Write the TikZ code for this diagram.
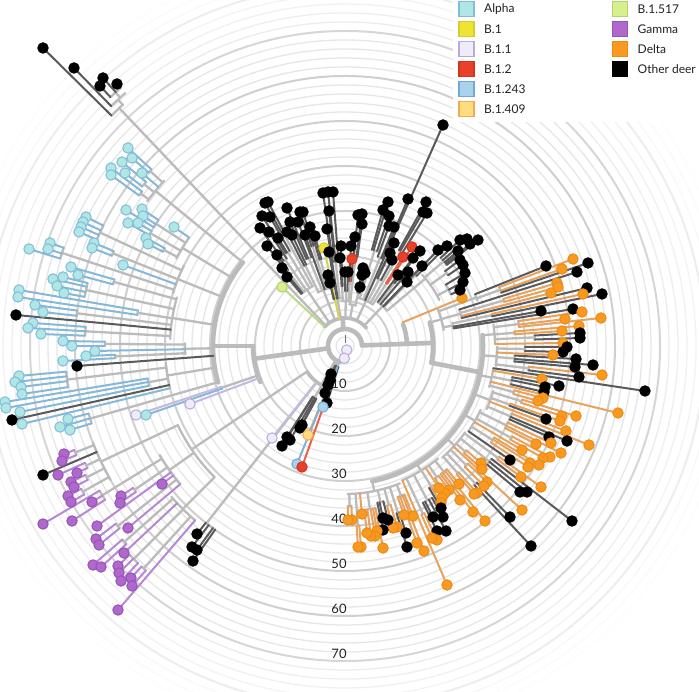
\documentclass[tikz,border=0pt]{standalone}
\usepackage{fontspec}
\setmainfont{Lato}
\definecolor{brc}{HTML}{BBBBBB}
\definecolor{rmin}{HTML}{E6E6E6}
\definecolor{rmaj}{HTML}{CFCFCF}
\definecolor{legtx}{HTML}{222222}
\definecolor{fA}{HTML}{B0E6E3}\definecolor{sA}{HTML}{80BCDC}\definecolor{lA}{HTML}{86B8D8}
\definecolor{fY}{HTML}{EDE434}\definecolor{sY}{HTML}{D6CC2A}\definecolor{lY}{HTML}{D8D24E}
\definecolor{fL}{HTML}{F0EBF8}\definecolor{sL}{HTML}{B8ABD8}\definecolor{lL}{HTML}{C4B9DE}
\definecolor{fR}{HTML}{E8412B}\definecolor{sR}{HTML}{D5321F}\definecolor{lR}{HTML}{E8604C}
\definecolor{fS}{HTML}{A9D3EC}\definecolor{sS}{HTML}{72A9D4}\definecolor{lS}{HTML}{80B0D6}
\definecolor{fP}{HTML}{FDDD80}\definecolor{sP}{HTML}{F3AA55}\definecolor{lP}{HTML}{F2B45E}
\definecolor{fE}{HTML}{D9EF8E}\definecolor{sE}{HTML}{AED46E}\definecolor{lE}{HTML}{B9D98A}
\definecolor{fG}{HTML}{B068CC}\definecolor{sG}{HTML}{9354B4}\definecolor{lG}{HTML}{B688D6}
\definecolor{fO}{HTML}{F89A22}\definecolor{sO}{HTML}{EE8A14}\definecolor{lO}{HTML}{E6A25E}
\definecolor{lB}{HTML}{5A5A5A}
\tikzset{
  br/.style={draw=brc,line width=2.3pt,line cap=round},
  thk/.style={br,line width=4.6pt},
  ringmin/.style={draw=rmin,line width=1.3pt},
  ringmaj/.style={draw=rmaj,line width=2pt},
  tipl/.style={line width=2pt,line cap=round},
  LA/.style={tipl,draw=lA}, LY/.style={tipl,draw=lY}, LL/.style={tipl,draw=lL},
  LR/.style={tipl,draw=lR}, LS/.style={tipl,draw=lS}, LP/.style={tipl,draw=lP},
  LE/.style={tipl,draw=lE}, LG/.style={tipl,draw=lG}, LO/.style={tipl,draw=lO},
  LB/.style={tipl,draw=lB},
  dot/.style={line width=1pt},
  DA/.style={dot,fill=fA,draw=sA}, DY/.style={dot,fill=fY,draw=sY}, DL/.style={dot,fill=fL,draw=sL},
  DR/.style={dot,fill=fR,draw=sR}, DS/.style={dot,fill=fS,draw=sS}, DP/.style={dot,fill=fP,draw=sP},
  DE/.style={dot,fill=fE,draw=sE}, DG/.style={dot,fill=fG,draw=sG}, DO/.style={dot,fill=fO,draw=sO},
  DB/.style={dot,fill=black,draw=black},
  axlab/.style={font=\fontsize{13}{15}\selectfont,text=legtx},
  legtext/.style={anchor=west,inner sep=0pt,font=\fontsize{12}{14}\selectfont,text=legtx}
}
\newcount\drawmode
\newcommand\GetAng[3]{\pgfmathsetmacro#3{atan2(346-(#2),(#1)-345)}\pgfmathsetmacro#3{(#3<-92)?(#3+360):(#3)}}
\newcommand\Tp[4]{\ifnum\drawmode>0 \GetAng{#1}{#2}\tA
  \ifnum\drawmode=1 \draw[L#4] (\tA:#3) -- (#1-345,346-#2);
  \else \path[D#4] (#1-345,346-#2) circle[radius=5.2];\fi\fi}
\newcommand\SbA[5][br]{\ifnum\drawmode=0 \pgfmathsetmacro\sM{((#2)+(#3))/2}
  \draw[#1] (#2:#5) arc[start angle=#2, end angle=#3, radius=#5];
  \draw[#1] (\sM:#4) -- (\sM:#5);\fi}
\newcommand\ArcA[4][br]{\ifnum\drawmode=0 \draw[#1] (#2:#4) arc[start angle=#2, end angle=#3, radius=#4];\fi}
\newcommand\StA[4][br]{\ifnum\drawmode=0 \draw[#1] (#2:#3) -- (#2:#4);\fi}
\newcommand\Leg[5]{\path[draw=#4,fill=#3,line width=1.8pt] (#1-7.5,#2-7.5) rectangle ++(15,15);
  \node[legtext] at (#1+17.5,#2) {#5};}
\newcommand\TreeBody{%
% root
\ArcA[thk]{2}{252}{17}
\StA[draw=black!55,line width=1pt]{90}{3}{11}
% right clade
\StA[thk]{2}{17}{62}
\ArcA[thk]{2}{20}{62}
\Tp{462}{298}{62}{O}
\StA[thk]{2}{62}{88}
\ArcA[thk]{-11}{15.5}{88}
\SbA{9.2}{21.7}{88}{100}
 \SbA{18.9}{21.7}{100}{140}
  \Tp{546}{266}{140}{B}
  \SbA{18.9}{20.9}{140}{165}
   \Tp{573}{259}{165}{O}\Tp{562}{269}{165}{O}\Tp{588}{263}{165}{B}
 \SbA{13.5}{17.7}{100}{120}
  \Tp{577}{272}{120}{B}
  \SbA{15.5}{16.5}{120}{165}\Tp{557}{283}{165}{O}\Tp{558}{287}{165}{O}
  \Tp{551}{293}{120}{O}
  \Tp{587}{288}{120}{B}
 \SbA{9.2}{12.3}{100}{110}
  \SbA{11.4}{12.3}{110}{150}\Tp{583}{294}{150}{O}\Tp{602}{294}{150}{B}
  \Tp{541}{311}{110}{B}
  \Tp{573}{309}{110}{B}
\StA[thk]{-11}{88}{138}
\ArcA[thk]{4.5}{-78.6}{138}
\SbA{0.8}{8.2}{138}{150}
 \SbA{6.2}{8.2}{150}{175}\Tp{582}{312}{175}{O}\Tp{565}{319}{175}{O}\Tp{601}{318}{175}{O}
 \SbA{4.0}{4.9}{150}{170}\Tp{579}{326}{170}{O}\Tp{562}{331}{170}{O}
 \SbA{2.0}{3.2}{150}{190}\Tp{580}{333}{190}{B}\Tp{580}{338}{190}{B}
 \Tp{563}{343}{150}{O}
\SbA{-7.5}{-0.3}{138}{152}
 \SbA{-1.6}{-0.3}{152}{180}\Tp{567}{347}{180}{B}\Tp{563}{352}{180}{B}
 \Tp{553}{355}{152}{O}
 \SbA{-5.2}{-3.2}{152}{170}\Tp{576}{359}{170}{B}\Tp{593}{365}{170}{B}\Tp{575}{367}{170}{B}
 \SbA{-7.5}{-6.4}{152}{185}\Tp{602}{375}{185}{O}\Tp{579}{377}{185}{B}
\SbA{-15.9}{-8.5}{138}{150}
 \Tp{645}{391}{150}{B}
 \Tp{542}{379}{150}{O}
 \SbA{-13.0}{-10.6}{150}{170}\Tp{559}{386}{170}{B}\Tp{545}{387}{170}{B}\Tp{544}{392}{170}{B}
 \Tp{618}{413}{150}{O}
 \SbA{-15.9}{-14.7}{150}{175}\Tp{543}{398}{175}{O}\Tp{538}{401}{175}{O}
\SbA{-24.0}{-16.9}{138}{155}
 \SbA{-17.9}{-16.9}{155}{185}\Tp{576}{416}{185}{O}\Tp{562}{416}{185}{O}
 \SbA{-20.0}{-19.2}{155}{175}\Tp{560}{421}{175}{O}\Tp{546}{419}{175}{B}
 \Tp{566}{431}{155}{O}
 \SbA{-24.0}{-22.1}{155}{180}\Tp{589}{445}{180}{O}\Tp{567}{441}{180}{B}\Tp{549}{437}{180}{B}
\SbA{-34.6}{-25.2}{138}{150}
 \SbA{-27.2}{-25.2}{150}{180}\Tp{551}{443}{180}{O}\Tp{561}{453}{180}{O}\Tp{536}{444}{180}{O}
 \SbA{-29.5}{-28.4}{150}{190}\Tp{550}{457}{190}{O}\Tp{543}{458}{190}{O}
 \Tp{522}{450}{150}{O}
 \SbA{-33.5}{-31.5}{150}{175}\Tp{539}{465}{175}{O}\Tp{530}{463}{175}{O}\Tp{528}{467}{175}{O}
 \Tp{510}{460}{150}{B}
\SbA{-48.9}{-35.7}{138}{148}
 \SbA{-36.7}{-35.7}{148}{190}\Tp{541}{487}{190}{O}\Tp{521}{477}{190}{O}
 \SbA{-39.8}{-37.6}{148}{185}\Tp{572}{521}{185}{B}\Tp{527}{492}{185}{B}\Tp{520}{492}{185}{B}
 \SbA{-41.9}{-40.7}{148}{160}\Tp{481}{463}{160}{O}\Tp{482}{469}{160}{O}
 \Tp{522}{510}{148}{O}
 \SbA{-45.2}{-43.8}{148}{170}\Tp{487}{482}{170}{O}\Tp{484}{486}{170}{O}
 \SbA{-47.1}{-46.0}{148}{190}\Tp{510}{517}{190}{B}\Tp{531}{546}{190}{B}
 \SbA{-48.9}{-48.0}{148}{170}\Tp{477}{493}{170}{O}\Tp{474}{494}{170}{O}
\SbA{-66.9}{-50.4}{138}{146}
 \SbA{-53.3}{-50.4}{146}{160}\Tp{459}{484}{160}{O}\Tp{485}{521}{160}{O}\Tp{473}{512}{160}{O}\Tp{460}{500}{160}{O}
 \SbA{-55.8}{-54.2}{146}{160}\Tp{449}{490}{160}{O}\Tp{445}{493}{160}{O}
 \Tp{439}{488}{146}{O}
 \SbA{-59.4}{-57.5}{146}{165}\Tp{442}{498}{165}{O}\Tp{441}{503}{165}{O}\Tp{441}{508}{165}{B}
 \SbA{-63.6}{-60.2}{146}{175}\Tp{443}{517}{175}{B}\Tp{446}{531}{175}{B}\Tp{433}{517}{175}{B}\Tp{437}{531}{175}{B}
 \SbA{-65.6}{-64.6}{146}{185}\Tp{437}{540}{185}{O}\Tp{432}{538}{185}{O}
 \Tp{447}{585}{146}{O}
\SbA{-89}{-68.2}{138}{148}
 \SbA{-70.8}{-68.2}{148}{160}\Tp{413}{516}{160}{O}\Tp{424}{551}{160}{O}\Tp{417}{543}{160}{O}\Tp{404}{515}{160}{O}
 \SbA{-72.9}{-71.9}{148}{175}\Tp{406}{533}{175}{B}\Tp{407}{547}{175}{B}
 \SbA{-75.2}{-74}{148}{165}\Tp{397}{527}{165}{O}\Tp{393}{528}{165}{O}
 \SbA{-78.3}{-76.1}{148}{160}\Tp{388}{520}{160}{B}\Tp{383}{518}{160}{B}\Tp{383}{530}{160}{B}
 \SbA{-83.3}{-79.3}{148}{165}\Tp{383}{548}{165}{O}\Tp{377}{531}{165}{O}\Tp{375}{536}{165}{O}\Tp{371}{536}{165}{O}\Tp{367}{533}{165}{O}
 \Tp{362}{514}{148}{O}
 \SbA{-86.3}{-85.5}{148}{180}\Tp{361}{547}{180}{O}\Tp{358}{547}{180}{O}
 \SbA{-89}{-87.7}{148}{160}\Tp{352}{520}{160}{O}\Tp{348}{520}{160}{O}
% top clade
\StA[thk]{95}{17}{28}
\ArcA[br,line width=3.6pt]{40}{137}{28}
\Tp{282}{287}{28}{E}
\Tp{324}{248}{28}{Y}
\StA{133.5}{28}{328}
\ArcA{132.6}{135.4}{328}
\Tp{43}{48}{328}{B}
\SbA{131}{134.3}{328}{335}
\Tp{74}{68}{335}{B}
\SbA{131}{133.3}{335}{342}
\Tp{117}{84}{342}{B}\Tp{103}{78}{342}{B}\Tp{100}{86}{342}{B}
\SbA{118.1}{130.0}{28}{68}
 \SbA{118.1}{119.2}{68}{130}\Tp{268}{202}{130}{B}\Tp{265}{203}{130}{B}
 \SbA{120.2}{122.6}{68}{110}\Tp{270}{217}{110}{B}\Tp{278}{238}{110}{B}\Tp{262}{216}{110}{B}
 \SbA{123.7}{125.8}{68}{105}\Tp{269}{232}{105}{B}\Tp{260}{228}{105}{B}
 \SbA{126.8}{127.9}{68}{95}\Tp{277}{255}{95}{B}\Tp{267}{246}{95}{B}
 \Tp{282}{268}{68}{B}
 \Tp{287}{277}{68}{B}
\SbA{105.3}{117.0}{28}{60}
 \SbA{105.3}{106.4}{60}{90}\Tp{315}{236}{90}{B}\Tp{310}{227}{90}{B}
 \SbA{107.4}{108.6}{60}{105}\Tp{303}{212}{105}{B}\Tp{300}{212}{105}{B}
 \Tp{305}{235}{60}{B}
 \SbA{110.8}{113.9}{60}{95}\Tp{298}{222}{95}{B}\Tp{287}{208}{95}{B}\Tp{290}{222}{95}{B}
 \SbA{115.5}{117.0}{60}{90}\Tp{292}{235}{90}{B}\Tp{287}{232}{90}{B}
\SbA{94.5}{103.5}{28}{48}
 \SbA{94.5}{98.2}{48}{85}\Tp{333}{192}{85}{B}\Tp{328}{192}{85}{B}\Tp{329}{211}{85}{B}\Tp{323}{193}{85}{B}
 \Tp{327}{229}{48}{B}
 \Tp{329}{252}{48}{B}
 \Tp{330}{283}{48}{B}\Tp{328}{275}{48}{B}
\SbA{84.8}{93.3}{28}{45}
 \SbA{84.8}{86.6}{45}{65}\Tp{355}{237}{65}{B}\Tp{352}{259}{65}{R}\Tp{351}{246}{65}{B}
 \SbA{87.7}{90}{45}{55}\Tp{348}{272}{55}{B}\Tp{345}{272}{55}{B}
 \SbA{92.3}{93.3}{45}{60}\Tp{341}{246}{60}{B}\Tp{340}{258}{60}{B}
\SbA{74.7}{84.3}{28}{42}
 \SbA{74.7}{77.0}{42}{55}\Tp{365}{273}{55}{B}\Tp{360}{287}{55}{B}\Tp{362}{275}{55}{B}\Tp{363}{268}{55}{B}
 \SbA{82.1}{84.3}{42}{90}\Tp{362}{224}{90}{B}\Tp{362}{214}{90}{B}\Tp{358}{215}{90}{B}
\SbA{55.9}{74.4}{28}{50}
 \SbA{55.9}{56.9}{50}{75}\Tp{412}{247}{75}{R}\Tp{403}{257}{75}{R}
 \SbA{58.3}{60.6}{50}{110}\Tp{427}{213}{110}{B}\Tp{423}{212}{110}{B}\Tp{426}{202}{110}{B}
 \SbA{61.3}{64.6}{50}{75}\Tp{392}{260}{75}{B}\Tp{390}{253}{75}{B}\Tp{394}{243}{75}{B}
 \Tp{443}{125}{50}{B}
 \SbA{66.8}{69.9}{50}{95}\Tp{408}{199}{95}{B}\Tp{394}{227}{95}{B}\Tp{389}{226}{95}{B}
 \SbA{71.3}{74.4}{50}{100}\Tp{389}{216}{100}{B}\Tp{388}{202}{100}{B}\Tp{383}{210}{100}{B}
\SbA{40}{53.3}{28}{55}
 \SbA{44.4}{45.9}{55}{100}\Tp{447}{246}{100}{B}\Tp{438}{250}{100}{B}
 \Tp{407}{282}{55}{B}
 \Tp{422}{266}{55}{B}
 \Tp{408}{272}{55}{B}
 \SbA{51.7}{52.3}{55}{80}\Tp{420}{251}{80}{B}\Tp{413}{258}{80}{B}
 \Tp{398}{275}{55}{B}
\ArcA{26}{42.7}{105}
\StA{40}{55}{105}
 \SbA{26}{31.3}{105}{118}\Tp{460}{290}{118}{B}\Tp{463}{282}{118}{B}\Tp{465}{273}{118}{B}
 \SbA{34.5}{36.8}{105}{125}\Tp{463}{265}{125}{B}\Tp{460}{260}{125}{B}
 \SbA{38.6}{42.7}{105}{130}\Tp{478}{240}{130}{B}\Tp{470}{244}{130}{B}\Tp{458}{251}{130}{B}\Tp{467}{239}{130}{B}\Tp{460}{240}{130}{B}
% lower-left
\StA[thk]{240}{17}{46}
\ArcA[br,line width=3.4pt]{214}{240}{46}
\StA{214}{46}{185}
\ArcA{205.35}{225.15}{185}
\SbA{201}{209.7}{185}{270}
 \SbA{201}{202.1}{270}{290}\Tp{64}{454}{290}{G}\Tp{62}{461}{290}{G}
 \Tp{43}{475}{270}{B}
 \SbA{204.2}{205.4}{270}{285}\Tp{58}{475}{285}{G}\Tp{77}{473}{285}{G}
 \SbA{206.4}{207.5}{270}{290}\Tp{71}{482}{290}{G}\Tp{74}{487}{290}{G}
 \SbA{208.4}{209.7}{270}{300}\Tp{68}{496}{300}{G}\Tp{71}{502}{300}{G}
\SbA{210.5}{220}{185}{215}
 \SbA{210.5}{212.7}{215}{285}\Tp{43}{524}{285}{G}\Tp{92}{502}{285}{G}\Tp{72}{521}{285}{G}
 \SbA{213.8}{214.9}{215}{255}\Tp{121}{496}{255}{G}\Tp{120}{503}{255}{G}
 \Tp{97}{526}{215}{G}
 \Tp{162}{484}{215}{G}
 \SbA{217.8}{219}{215}{290}\Tp{96}{539}{290}{G}\Tp{99}{545}{290}{G}
 \Tp{128}{528}{215}{G}
\SbA{221}{229.3}{185}{230}
 \SbA{221}{222.2}{230}{295}\Tp{93}{565}{295}{G}\Tp{101}{567}{295}{G}
 \Tp{124}{553}{230}{G}
 \SbA{224.1}{226.4}{230}{300}\Tp{118}{566}{300}{G}\Tp{119}{573}{300}{G}\Tp{121}{581}{300}{G}
 \SbA{227.3}{228.4}{230}{300}\Tp{131}{578}{300}{G}\Tp{132}{586}{300}{G}
 \Tp{118}{610}{230}{G}
\StA{232}{46}{225}
\ArcA{231.8}{234.7}{225}
\Tp{197}{534}{225}{B}\Tp{192}{547}{225}{B}\Tp{197}{550}{225}{B}\Tp{193}{561}{225}{B}
\StA{250}{17}{22}
\ArcA{237}{253}{22}
\Tp{331}{374}{22}{B}
\Tp{330}{380}{22}{B}
\Tp{328}{385}{22}{B}
\Tp{325}{393}{22}{B}
\Tp{327}{403}{22}{B}
\Tp{323}{407}{22}{S}
\SbA{237.5}{241.4}{22}{60}\Tp{287}{437}{60}{B}\Tp{282}{446}{60}{B}\Tp{290}{440}{60}{B}\Tp{300}{428}{60}{B}\Tp{302}{425}{60}{B}
\SbA{247.4}{250.4}{22}{50}\Tp{308}{435}{50}{P}\Tp{297}{464}{50}{S}\Tp{302}{467}{50}{R}
\Tp{272}{438}{46}{L}
% left clade
\StA[thk]{188}{17}{92}
\ArcA[thk]{180}{203}{92}
\Tp{190}{404}{92}{L}
\SbA{198.3}{199.1}{92}{130}\Tp{136}{415}{130}{L}\Tp{146}{415}{130}{A}
\StA[thk]{180}{92}{132}
\ArcA[thk]{140.7}{196}{132}
\SbA{137.6}{143.8}{132}{245}
 \SbA{137.6}{138.6}{245}{262}\Tp{128}{148}{262}{A}\Tp{132}{158}{262}{A}
 \Tp{142}{173}{245}{A}
 \SbA{140.5}{141.8}{245}{258}\Tp{122}{162}{258}{A}\Tp{125}{173}{258}{A}
 \SbA{142.7}{143.8}{245}{255}\Tp{111}{168}{255}{A}\Tp{111}{175}{255}{A}
\SbA{145.2}{152.6}{132}{190}
 \Tp{174}{227}{190}{A}
 \SbA{146.0}{148.2}{190}{225}\Tp{142}{209}{225}{A}\Tp{143}{216}{225}{A}\Tp{126}{210}{225}{A}
 \SbA{149.3}{150.5}{190}{225}\Tp{138}{223}{225}{A}\Tp{128}{223}{225}{A}
 \SbA{151.5}{152.6}{190}{205}\Tp{146}{238}{205}{A}\Tp{148}{244}{205}{A}
\SbA{153.5}{162.9}{132}{180}
 \SbA{153.5}{156.8}{180}{270}\Tp{86}{217}{270}{A}\Tp{83}{222}{270}{A}\Tp{81}{227}{270}{A}\Tp{79}{232}{270}{A}
 \SbA{157.7}{158.8}{180}{250}\Tp{94}{243}{250}{A}\Tp{92}{248}{250}{A}
 \Tp{123}{265}{180}{A}
 \SbA{160.7}{162.9}{180}{298}\Tp{50}{243}{298}{A}\Tp{48}{249}{298}{A}\Tp{29}{249}{298}{A}
\SbA{163.9}{177.7}{132}{175}
 \SbA{163.9}{165.1}{175}{240}\Tp{71}{267}{240}{A}\Tp{78}{275}{240}{A}
 \SbA{166.3}{169.3}{175}{265}\Tp{63}{277}{265}{A}\Tp{53}{279}{265}{A}\Tp{57}{286}{265}{A}\Tp{64}{293}{265}{A}
 \SbA{170.3}{171.5}{175}{210}\Tp{19}{290}{210}{A}\Tp{18}{297}{210}{A}
 \SbA{172.5}{173.6}{175}{270}\Tp{35}{305}{270}{A}\Tp{43}{312}{270}{A}
 \Tp{16}{315}{175}{B}
 \SbA{175.8}{177.7}{175}{260}\Tp{33}{323}{260}{A}\Tp{28}{328}{260}{A}\Tp{41}{334}{260}{A}
\SbA{179}{183}{132}{160}
 \SbA{179}{180}{160}{240}\Tp{63}{341}{240}{A}\Tp{72}{346}{240}{A}
 \Tp{95}{351}{160}{A}
 \SbA{182.2}{183}{160}{230}\Tp{86}{356}{230}{A}\Tp{63}{361}{230}{A}
\Tp{77}{366}{132}{B}
\SbA{185.3}{193.6}{132}{180}
 \SbA{185.3}{188.5}{180}{280}\Tp{19}{376}{280}{A}\Tp{15}{382}{280}{A}\Tp{21}{387}{280}{A}\Tp{22}{394}{280}{A}
 \SbA{189.4}{191.5}{180}{200}\Tp{5}{402}{200}{A}\Tp{6}{408}{200}{A}\Tp{20}{412}{200}{A}
 \Tp{12}{420}{180}{B}
 \Tp{22}{424}{180}{A}
\SbA{194.8}{197}{132}{265}\Tp{68}{419}{265}{A}\Tp{60}{427}{265}{A}\Tp{70}{430}{265}{A}
}
\begin{document}
\begin{tikzpicture}[x=1pt,y=1pt]
\useasboundingbox (0,0) rectangle (699,692);
\clip (0,0) rectangle (699,692);
\fill[white] (0,0) rectangle (699,692);
\begin{scope}[shift={(345,346)}]
\foreach \k in {1,...,43}{
  \pgfmathsetmacro\rr{9*\k}
  \pgfmathsetmacro\op{min(1,max(0,(395-\rr)/95))}
  \pgfmathtruncatemacro\mj{mod(\k,5)==0}
  \ifnum\mj=1 \draw[ringmaj,opacity=\op] (0,0) circle[radius=\rr];
  \else \draw[ringmin,opacity=\op] (0,0) circle[radius=\rr]; \fi
}
\foreach \k in {1,...,7}{
  \pgfmathtruncatemacro\lv{10*\k}
  \node[axlab] at (-6,{-45*\k+7}) {\lv};
}
\global\drawmode=0
\TreeBody
\global\drawmode=1
\TreeBody
\global\drawmode=2
\TreeBody
\path[DL] (1.7,-4) circle[radius=5.2];
\path[DL] (-0.7,-12.3) circle[radius=5.2];
\end{scope}
\fill[white] (453,570) rectangle (699,692);
\Leg{466.5}{683}{fA}{sA}{Alpha}
\Leg{466.5}{663}{fY}{sY}{B.1}
\Leg{466.5}{643}{fL}{sL}{B.1.1}
\Leg{466.5}{623}{fR}{sR}{B.1.2}
\Leg{466.5}{603}{fS}{sS}{B.1.243}
\Leg{466.5}{583}{fP}{sP}{B.1.409}
\Leg{620}{683}{fE}{sE}{B.1.517}
\Leg{620}{663}{fG}{sG}{Gamma}
\Leg{620}{643}{fO}{sO}{Delta}
\Leg{620}{623}{black}{black}{Other deer}
\end{tikzpicture}
\end{document}
